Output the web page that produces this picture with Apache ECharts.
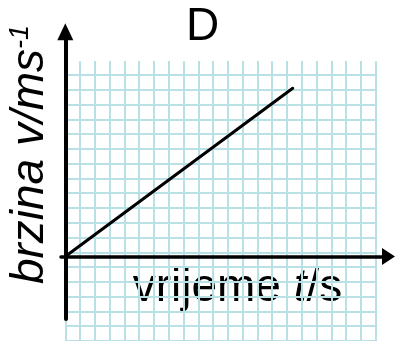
<!DOCTYPE html>
<html>
<head>
<meta charset="utf-8">
<script src="https://cdn.jsdelivr.net/npm/echarts@6/dist/echarts.min.js"></script>
<style>
html,body{margin:0;padding:0;background:#fff;}
#chart{width:396px;height:341px;}
</style>
</head>
<body>
<div id="chart"></div>
<script>
// Data
const timeValues = [0, 15.39];
const speedValues = [0, 11.12];
const titleText = 'D';
const xLabelParts = ['vrijeme ', 't', '/s'];
const yLabelMain = 'brzina v/ms';
const yLabelSup = '-1';

const gridColor = '#b9e0e4';
const FONT = '"Liberation Sans", Arial, sans-serif';

const chart = echarts.init(document.getElementById('chart'), null, {renderer: 'canvas'});

const hidden = {show: false};
const option = {
  animation: false,
  backgroundColor: '#ffffff',
  grid: [
    {left: 65.3, right: 20.3, top: 61, bottom: 0},
    {left: 65.3, right: 19, top: 75, bottom: -6.3},
    {left: 61, right: 7.5, top: 31.8, bottom: 22}
  ],
  xAxis: [
    {gridIndex: 0, type: 'value', min: 0, max: 21, interval: 1,
     axisLine: hidden, axisTick: hidden, axisLabel: hidden,
     splitLine: {show: true, lineStyle: {color: gridColor, width: 2}}},
    {gridIndex: 1, type: 'value', min: 0, max: 21.1, show: false},
    {gridIndex: 2, type: 'value', min: -0.291, max: 21.87,
     axisLine: {show: true, onZero: true, symbol: ['none', 'triangle'], symbolSize: [17, 13],
       lineStyle: {color: '#000', width: 3.5}},
     axisTick: hidden, axisLabel: hidden, splitLine: hidden}
  ],
  yAxis: [
    {gridIndex: 0, type: 'value', min: 0, max: 1, show: false},
    {gridIndex: 1, type: 'value', min: -6, max: 12, interval: 1,
     axisLine: hidden, axisTick: hidden, axisLabel: hidden,
     splitLine: {show: true, lineStyle: {color: gridColor, width: 2}}},
    {gridIndex: 2, type: 'value', min: -4.13, max: 14.85,
     axisLine: {show: true, onZero: true, symbol: ['none', 'triangle'], symbolSize: [16, 17],
       lineStyle: {color: '#000', width: 4}},
     axisTick: hidden, axisLabel: hidden, splitLine: hidden}
  ],
  series: [{
    type: 'line',
    xAxisIndex: 2,
    yAxisIndex: 2,
    data: timeValues.map((t, i) => [t, speedValues[i]]),
    symbol: 'none',
    lineStyle: {color: '#000', width: 3, cap: 'round'},
    z: 5
  }],
  graphic: [
    {type: 'text', x: 202.5, y: 27, style: {text: titleText, font: '46px ' + FONT, fill: '#000',
      textAlign: 'center', textVerticalAlign: 'middle'}},
    {type: 'text', x: 237.5, y: 288, style: {
      text: '{a|' + xLabelParts[0] + '}{b|' + xLabelParts[1] + '}{a|' + xLabelParts[2] + '}',
      textAlign: 'center', textVerticalAlign: 'middle',
      rich: {
        a: {fontFamily: FONT, fontSize: 46, fill: '#000', color: '#000'},
        b: {fontFamily: FONT, fontSize: 46, fontStyle: 'italic', fill: '#000', color: '#000'}
      }}},
    {type: 'text', x: 30, y: 154.5, rotation: Math.PI / 2, style: {
      text: '{m|' + yLabelMain + '}{s|' + yLabelSup + '}',
      textAlign: 'center', textVerticalAlign: 'middle',
      rich: {
        m: {fontFamily: FONT, fontSize: 46, fontStyle: 'italic', fill: '#000', color: '#000'},
        s: {fontFamily: FONT, fontSize: 27, fontStyle: 'italic', fill: '#000', color: '#000', verticalAlign: 'top'}
      }}}
  ]
};
chart.setOption(option);
</script>
</body>
</html>
